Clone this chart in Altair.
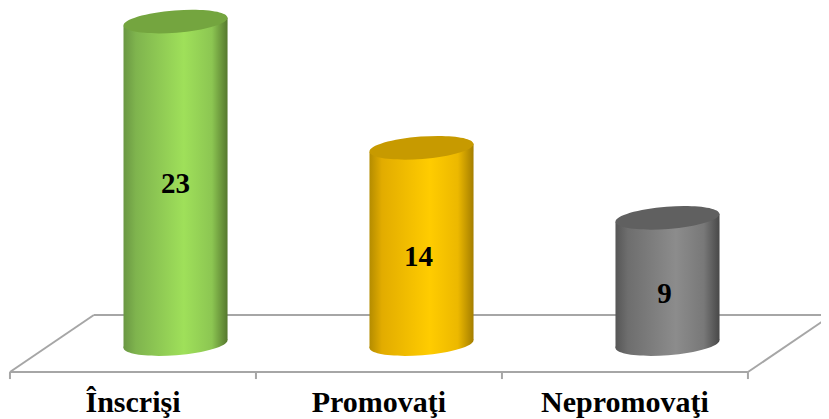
import altair as alt
import pandas as pd

categories = ["Înscrişi", "Promovaţi", "Nepromovaţi"]
values = [23, 14, 9]
edge_left = ["#6a9743", "#b48c00", "#565656"]
shade = ["#7fb44e", "#e2ac00", "#6e6e6e"]
bright = ["#9fe05a", "#ffcc00", "#8c8c8c"]
shade_r = ["#8cc652", "#ecb800", "#787878"]
edge_right = ["#56782e", "#a47e00", "#484848"]
top_col = ["#74a53f", "#c79a00", "#606060"]

# layout, in data units of the two scales
X0, X1 = -0.008, 3.297
Y_TOP, Y_BOTTOM = 23.97, -5.35
SHIFT = 0.173      # cylinders sit behind the axis, shifted right
HALF = 0.2115      # half the cylinder's width
TILT = 0.28        # rise of the ellipse across half of the width
FRONT, BACK, TICK = -2.0, 2.07, -2.5
DEPTH = 0.341
LABEL_Y = -4.85
TEXT_POS = [11.41, 6.2, 3.57]
TEXT_NUDGE = [0, -0.012, -0.012]
W, H = 813, 411
ELLIPSE_SIZE = 10816
ELLIPSE = "M-1,0.077 A1,0.215,-4.4,1,1,1,-0.077 A1,0.215,-4.4,1,1,-1,0.077 Z"

xs = alt.Scale(domain=[X0, X1], nice=False, zero=False)
ys = alt.Scale(domain=[Y_BOTTOM, Y_TOP], nice=False, zero=False)
X = lambda f="x": alt.X(f, type="quantitative", scale=xs, axis=None)
Y = lambda f="y": alt.Y(f, type="quantitative", scale=ys, axis=None)


def segs(rows):
    return alt.Chart(pd.DataFrame(rows, columns=["x", "x2", "y", "y2"]))


floor_back = segs([
    [DEPTH, 3 + DEPTH, BACK, BACK],
    [0, DEPTH, FRONT, BACK],
    [3, 3 + DEPTH, FRONT, BACK],
]).mark_rule(color="#a6a6a6", strokeWidth=2).encode(X(), Y(), x2="x2", y2="y2")

floor_front = segs([[0, 3, FRONT, FRONT]] + [[i, i, FRONT, TICK] for i in range(4)]
                   ).mark_rule(color="#a6a6a6", strokeWidth=2).encode(X(), Y(), x2="x2", y2="y2")

layers = [floor_back, floor_front]


def grad(i):
    return alt.Gradient(
        gradient="linear", x1=0, x2=1, y1=0, y2=0,
        stops=[
            alt.GradientStop(offset=0, color=edge_left[i]),
            alt.GradientStop(offset=0.12, color=shade[i]),
            alt.GradientStop(offset=0.58, color=bright[i]),
            alt.GradientStop(offset=0.85, color=shade_r[i]),
            alt.GradientStop(offset=1, color=edge_right[i]),
        ],
    )


for i, v in enumerate(values):
    c = i + 0.5 + SHIFT
    g = grad(i)
    body = pd.DataFrame({
        "x": [c - HALF, c + HALF],
        "y": [v - TILT, v + TILT],
        "y2": [-TILT, TILT],
    })
    layers.append(alt.Chart(body).mark_area(fill=g, line=False).encode(X(), Y(), y2="y2"))
    centre = pd.DataFrame({"x": [c], "y": [0]})
    layers.append(alt.Chart(centre).mark_point(
        shape=ELLIPSE, filled=True, fill=g, opacity=1, size=ELLIPSE_SIZE, strokeWidth=0
    ).encode(X(), Y()))
    top = pd.DataFrame({"x": [c], "y": [v]})
    layers.append(alt.Chart(top).mark_point(
        shape=ELLIPSE, filled=True, fill=top_col[i], opacity=1, size=ELLIPSE_SIZE, strokeWidth=0
    ).encode(X(), Y()))

val_df = pd.DataFrame({
    "x": [i + 0.5 + SHIFT + TEXT_NUDGE[i] for i in range(3)],
    "y": TEXT_POS,
    "t": [str(v) for v in values],
})
layers.append(alt.Chart(val_df).mark_text(
    font="Liberation Serif", fontWeight="bold", fontSize=29, color="black", baseline="middle"
).encode(X(), Y(), text="t:N"))

lab_df = pd.DataFrame({
    "x": [0.5, 1.5, 2.5],
    "y": [LABEL_Y] * 3,
    "t": categories,
})
layers.append(alt.Chart(lab_df).mark_text(
    font="Liberation Serif", fontWeight="bold", fontSize=30, color="black", baseline="alphabetic"
).encode(X(), Y(), text="t:N"))

chart = alt.layer(*layers).properties(
    width=W, height=H, padding=0,
    autosize=alt.AutoSizeParams(type="none"),
    background="white",
).configure_view(stroke=None)

chart.save("out.html", embed_options={"renderer": "svg", "actions": False})
